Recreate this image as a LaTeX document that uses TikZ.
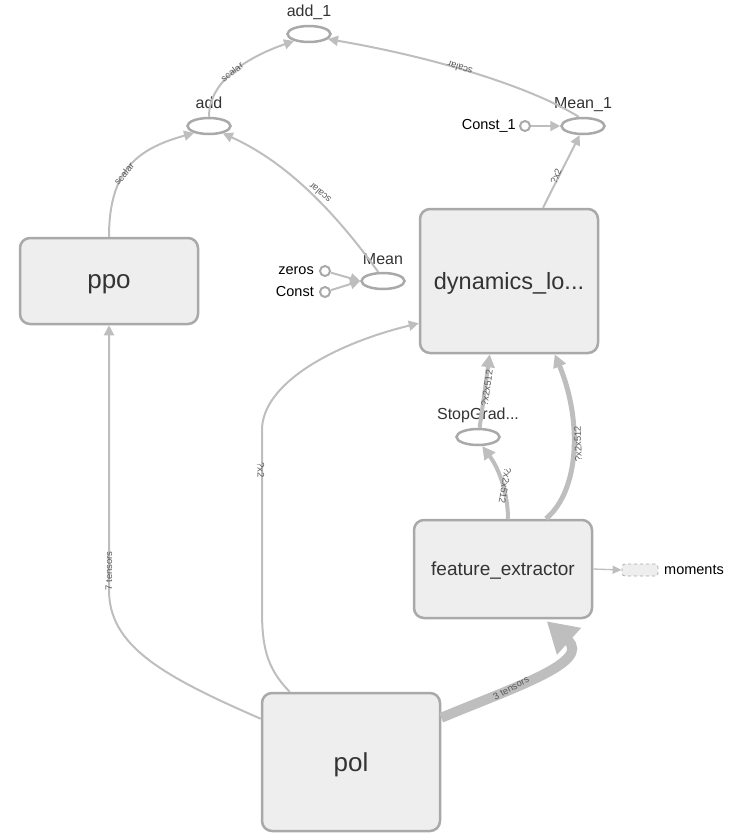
\documentclass[tikz,border=0pt]{standalone}
\usepackage{fontspec}
\setmainfont{Liberation Sans}
\usetikzlibrary{arrows.meta,shapes.geometric,calc}
\definecolor{boxborder}{HTML}{A9A9A9}
\definecolor{boxfill}{HTML}{EEEEEE}
\definecolor{edgecol}{HTML}{BEBEBE}
\definecolor{txt}{HTML}{333333}
\definecolor{lbl}{HTML}{5A5A5A}
\begin{document}
\begin{tikzpicture}[x=1pt,y=-1pt,
 box/.style={draw=boxborder, fill=boxfill, line width=2.5pt, rounded corners=10pt, inner sep=0pt, text=txt, text depth=0pt},
 op/.style={ellipse, draw=boxborder, line width=2.5pt, minimum width=43pt, minimum height=16pt, inner sep=0pt},
 opname/.style={font=\fontsize{16}{16}\selectfont, text=txt, inner sep=0pt, anchor=base},
 cst/.style={circle, draw=boxborder, line width=2pt, minimum size=10pt, inner sep=0pt},
 cstname/.style={font=\fontsize{14.5}{14.5}\selectfont, text=black, inner sep=0pt},
 edge/.style={draw=edgecol, line width=2pt, -{Triangle[length=10pt,width=10pt]}},
 thickedge/.style={draw=edgecol, line width=4.5pt, -{Triangle[length=13pt,width=13pt]}},
 elab/.style={font=\fontsize{9.5}{9.5}\selectfont, text=lbl, inner sep=0pt},
]
\useasboundingbox (0,0) rectangle (730,836);

% boxes
\node[box, minimum width=178pt, minimum height=86pt, font=\fontsize{26}{26}\selectfont] (ppo) at (109,281) {ppo};
\node[box, minimum width=178pt, minimum height=144pt, font=\fontsize{23.5}{23.5}\selectfont] (dyn) at (509,281) {dynamics\_lo...};
\node[box, minimum width=178pt, minimum height=98pt, font=\fontsize{19}{19}\selectfont] (fe) at (503,569) {feature\_extractor};
\node[box, minimum width=178pt, minimum height=138pt, font=\fontsize{26}{26}\selectfont] (pol) at (351,762) {pol};

% op nodes
\node[op] (add1) at (309,34) {};
\node[opname] (add1l) at (309,16) {add\_1};
\node[op] (add) at (209,126) {};
\node[opname] (addl) at (209,108) {add};
\node[op] (mean1) at (583,126) {};
\node[opname] (mean1l) at (583,108) {Mean\_1};
\node[op] (mean) at (383,281) {};
\node[opname] (meanl) at (383,264) {Mean};
\node[op] (sg) at (478,437) {};
\node[opname] (sgl) at (478,419) {StopGrad...};

% constants
\node[cst] (c1) at (525,126) {};
\node[cstname, anchor=east] (c1l) at (516,126) {Const\_1};
\node[cst] (zeros) at (325,271) {};
\node[cstname, anchor=east] (zerosl) at (314,271) {zeros};
\node[cst] (const) at (325,292) {};
\node[cstname, anchor=east] (constl) at (314,292) {Const};

% moments
\node[draw=boxborder, dashed, fill=boxfill, rounded corners=3pt, minimum width=36pt, minimum height=12pt, line width=0.8pt, inner sep=0pt] (mom) at (640,570) {};
\node[cstname, anchor=west] (moml) at (664,570) {moments};

% edges
\draw[edge] (add.90) .. controls (209,82) and (245,58) .. (add1.205);
\draw[edge] (mean1.115) .. controls (540,92) and (450,60) .. (add1.-15);
\draw[edge] (ppo.north) .. controls (109,168) and (140,148) .. (add.205);
\draw[edge] (mean.118) .. controls (330,205) and (282,160) .. (add.-28);
\draw[edge] (c1) -- (mean1);
\draw[edge] (zeros) -- (mean.west);
\draw[edge] (const) -- (mean.west);
\draw[edge] ($(dyn.north)+(34,0)$) -- (mean1.250);
\draw[edge] ($(pol.north west)+(0,27)$) .. controls (160,675) and (109,645) .. (109,590) -- (ppo.south);
\draw[edge] ($(pol.north west)+(29,0)$) .. controls (266,668) and (262,645) .. (262,610) -- (262,430) .. controls (262,385) and (330,345) .. ($(dyn.south west)+(0,-31)$);
\draw[thickedge, line width=4pt] ($(fe.north)+(5,0)$) .. controls (508,495) and (500,470) .. (sg.-65);
\draw[thickedge, line width=4pt] (sg.80) -- ($(dyn.south west)+(71,0)$);
\draw[thickedge, line width=5pt] ($(fe.north)+(43,0)$) .. controls (580,490) and (582,420) .. ($(dyn.south west)+(136,0)$);
\draw[draw=edgecol, line width=1.3pt, -{Triangle[length=9pt,width=8pt]}] (fe.east) -- (mom.west);
\draw[draw=edgecol, line width=10pt, -{Triangle[length=30pt,width=34pt]}] ($(pol.north east)+(0,26)$) .. controls (515,687) and (592,662) .. ($(fe.south west)+(134,2)$);

% edge labels
\node[elab, rotate=37] (l1) at (232,72) {scalar};
\node[elab, rotate=163] (l2) at (460,68) {scalar};
\node[elab, rotate=50] (l3) at (124,174) {scalar};
\node[elab, rotate=140] (l4) at (320,193) {scalar};
\node[elab, rotate=67] (l5) at (556,176) {?x2};
\node[elab, rotate=90] (l6) at (109,571) {7 tensors};
\node[elab, rotate=-90] (l7) at (261,470) {?x2};
\node[elab, rotate=82] (l8) at (487,388) {?x2x512};
\node[elab, rotate=-100] (l9) at (505,486) {?x2x512};
\node[elab, rotate=92] (l10) at (578,444) {?x2x512};
\node[elab, rotate=28] (l11) at (511,688) {3 tensors};
\end{tikzpicture}
\end{document}
